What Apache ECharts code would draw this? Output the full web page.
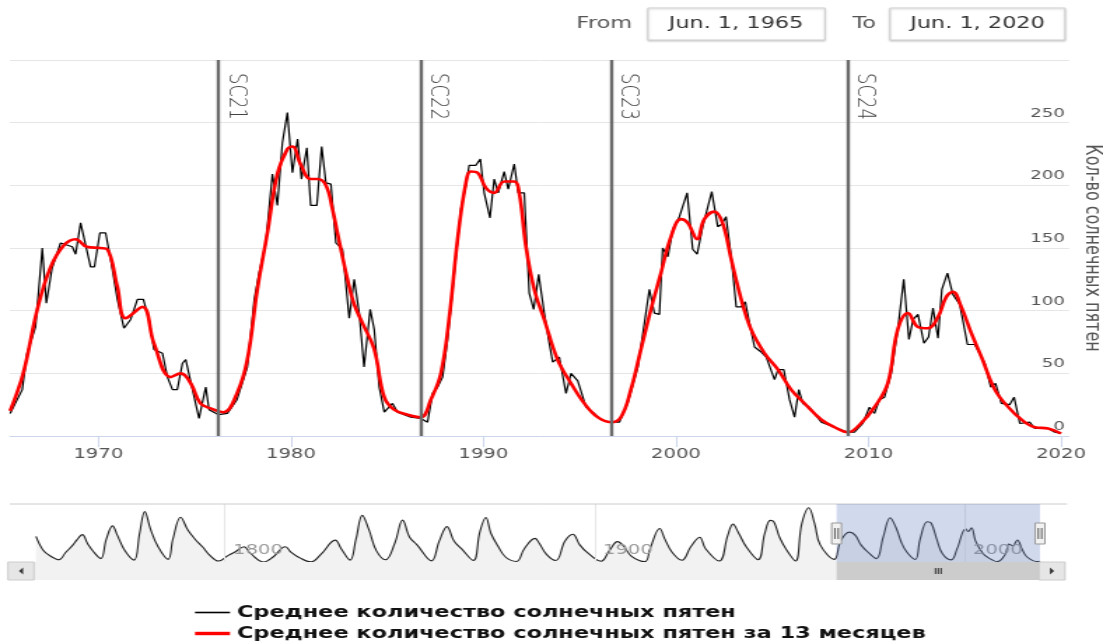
<!DOCTYPE html>
<html><head><meta charset="utf-8">
<script src="https://cdn.jsdelivr.net/npm/echarts@6/dist/echarts.min.js"></script>
<style>
html,body{margin:0;padding:0;background:#fff;overflow:hidden}
#wrap{width:1103px;height:641px;overflow:hidden;position:relative}
#main{width:788px;height:641px;transform:scaleX(1.39975);transform-origin:0 0}
</style></head>
<body><div id="wrap"><div id="main"></div></div>
<script>
// ---- data ----
const seriesNames = ['Среднее количество солнечных пятен', 'Среднее количество солнечных пятен за 13 месяцев'];
const axisName = 'Кол-во солнечных пятен';
const rangeFrom = 1965.414, rangeTo = 2020.414;
const rangeLabels = ['Jun. 1, 1965', 'Jun. 1, 2020'];
const xTickYears = [1970, 1980, 1990, 2000, 2010, 2020];
const navTickYears = [1800, 1900, 2000];
const cycleNames = ['SC21', 'SC22', 'SC23', 'SC24'];
const cycleStarts = [1976.25, 1986.75, 1996.67, 2008.96];

const rawYears = [1965.42,1966.05,1966.3,1966.74,1967.09,1967.3,1967.6,1968.04,1968.65,1968.82,1969.08,1969.6,1969.8,1970.08,1970.38,1970.64,1970.99,1971.33,1971.68,1972.03,1972.34,1972.63,1972.89,1973.33,1973.59,1973.85,1974.1,1974.37,1974.54,1974.89,1975.23,1975.58,1975.75,1976.25,1976.7,1977.2,1977.74,1978.1,1978.35,1978.7,1979.04,1979.3,1979.56,1979.82,1980.08,1980.35,1980.55,1980.83,1981.03,1981.35,1981.6,1981.82,1982.08,1982.34,1982.68,1983.03,1983.29,1983.55,1983.8,1984.12,1984.33,1984.59,1984.85,1985.28,1985.54,1986.23,1986.75,1987.1,1987.36,1987.62,1987.88,1988.14,1988.49,1988.83,1989.09,1989.26,1989.61,1989.84,1990.04,1990.34,1990.56,1990.77,1991.08,1991.29,1991.6,1991.81,1992.12,1992.38,1992.61,1992.87,1993.16,1993.42,1993.6,1993.94,1994.29,1994.55,1994.9,1995.33,1995.68,1996.11,1996.54,1997.06,1997.49,1998.02,1998.36,1998.62,1998.88,1999.14,1999.31,1999.58,1999.84,2000.18,2000.58,2000.87,2001.1,2001.39,2001.86,2002.17,2002.38,2002.6,2002.87,2003.13,2003.39,2003.6,2003.82,2004.08,2004.43,2004.69,2005.12,2005.3,2005.6,2005.9,2006.16,2006.38,2006.59,2006.93,2007.55,2008.24,2008.93,2009.27,2009.7,2010.05,2010.31,2010.57,2010.83,2011.18,2011.52,2011.83,2012.1,2012.32,2012.57,2012.88,2013.12,2013.35,2013.61,2013.81,2014.1,2014.38,2014.74,2015.14,2015.52,2016.04,2016.35,2016.6,2016.9,2017.33,2017.56,2017.86,2018.38,2018.64,2019.33,2019.68,2020.0];
const rawValues = [18,37,66,87,150,106,134,154,151,145,170,135,135,162,162,141,109,86,93,109,109,93,69,66,47,37,37,58,61,37,14,39,21,17,18,29,55,109,130,154,209,184,234,258,210,237,205,230,184,184,231,202,201,154,149,94,125,98,55,101,85,39,19,26,19,15,14,11,34,39,47,77,130,181,200,216,216,221,194,174,205,194,211,197,217,194,194,114,101,129,98,74,59,63,34,50,44,23,19,13,11,11,26,55,90,117,98,97,150,143,165,175,194,149,145,167,195,167,169,175,143,103,103,107,90,71,67,63,45,53,53,29,15,37,26,23,11,7,3,3,10,23,18,29,31,50,85,125,77,93,97,74,79,102,78,117,130,113,105,73,73,58,39,42,26,25,31,10,11,6,6,3,2];

const smoothYears = [1965.42,1966.1,1966.83,1967.5,1968.2,1968.82,1969.4,1970.1,1970.47,1970.99,1971.42,1972.29,1972.89,1973.76,1974.28,1974.8,1975.3,1975.84,1976.5,1977.2,1977.74,1978.26,1978.78,1979.3,1979.82,1980.08,1980.5,1981.03,1981.38,1981.82,1982.16,1982.42,1982.94,1983.29,1983.72,1984.33,1984.85,1985.36,1986.06,1986.75,1987.27,1987.79,1988.23,1988.66,1989.09,1989.35,1989.7,1990.13,1990.56,1991.08,1991.6,1991.86,1992.21,1992.64,1993.16,1993.85,1994.55,1995.24,1995.93,1996.62,1997.14,1997.66,1998.18,1998.7,1999.22,1999.74,2000.26,2000.61,2001.1,2001.47,2001.99,2002.42,2002.87,2003.39,2003.9,2004.6,2005.3,2005.98,2006.68,2007.55,2008.24,2008.93,2009.6,2010.31,2011.0,2011.52,2012.05,2012.57,2013.09,2013.61,2014.04,2014.38,2014.82,2015.34,2015.87,2016.56,2017.26,2017.95,2018.64,2019.33,2020.0];
const smoothValues = [20,50,101,134,152,157,151,150,149,119,94,103,74,47,50,42,26,22,19,34,61,117,162,209,229,231,217,205,205,200,181,162,125,105,90,69,31,21,17,15,29,50,95,157,202,211,210,198,194,203,203,194,151,117,93,61,42,26,15,11,15,37,69,101,130,159,173,170,157,173,179,170,141,109,85,66,53,37,26,13,7,3,10,23,42,85,98,87,86,95,111,115,103,82,63,37,23,13,7,6,2];

const navYears = [1749,1751,1753,1755.2,1757,1759,1760,1761.5,1763,1764.5,1766.5,1768,1769.7,1771,1773,1775.5,1777,1778.4,1780,1782,1784.7,1786,1788.1,1790,1792,1794,1796,1798.3,1801,1803,1805.2,1807,1810.6,1813,1816.4,1818,1820,1823.3,1826,1829.9,1831.5,1833.9,1835.5,1837.2,1839,1841,1843.5,1846,1848.1,1850,1852,1855.9,1858,1860.1,1862,1864,1867.2,1869,1870.6,1872,1874,1876,1878.9,1881,1883.9,1885,1887,1889.5,1892,1894.1,1896,1898,1901.7,1904,1906.2,1908,1910,1913.6,1915,1917.6,1919,1921,1923.6,1926,1928.4,1930,1933.7,1936,1937.4,1939,1941,1944.2,1946,1947.5,1948.5,1950,1952,1954.3,1956,1957.9,1959.5,1961,1964.8,1966.5,1968.9,1970.5,1972,1974,1976.2,1978,1979.9,1981.5,1983,1984.5,1986.7,1988,1989.9,1991,1992.5,1994,1996.4,1998,2000.3,2001,2001.9,2003,2005,2006.5,2008.9,2011,2012,2013,2014.3,2015.5,2017,2019.9,2020.4];
const navValues = [135,60,30,12,50,90,115,144,95,55,18,120,190,140,60,10,150,265,170,80,14,120,235,170,120,80,35,5,35,55,80,45,0,25,80,50,25,1,40,115,70,10,120,245,170,60,12,100,220,130,90,6,110,186,110,70,8,160,234,150,80,25,3,70,124,100,40,8,110,146,90,50,4,60,107,80,30,2,70,176,120,50,9,80,130,70,5,140,199,150,80,12,150,219,210,130,60,5,200,285,200,90,14,110,157,140,90,50,18,130,233,180,100,50,13,120,212,205,120,45,11,70,175,160,180,110,45,22,2,40,95,85,116,70,25,2,4];

// ---- chart ----
const K = 1103 / 788;           // horizontal stretch of the whole page
const FONT = 'DejaVu Sans';
const chart = echarts.init(document.getElementById('main'), null, {renderer: 'canvas', width: 788, height: 641});
const pair = (xs, ys) => xs.map((x, i) => [x, ys[i]]);

const option = {
  animation: false,
  backgroundColor: '#ffffff',
  grid: [
    {left: 10 / K, top: 60, width: 1059 / K, height: 376, outerBoundsMode: 'none', containLabel: false},
    {left: 36 / K, top: 504, width: 1004 / K, height: 58, outerBoundsMode: 'none', containLabel: false}
  ],
  xAxis: [
    {type: 'value', gridIndex: 0, min: rangeFrom, max: rangeTo,
     axisLine: {show: true, lineStyle: {color: '#ccd6eb', width: 1}},
     axisTick: {show: true, customValues: xTickYears, length: 11, lineStyle: {color: '#ccd6eb'}},
     axisLabel: {customValues: xTickYears, formatter: v => String(v), color: '#555', fontFamily: FONT, fontSize: 14, margin: 11},
     splitLine: {show: false}},
    {type: 'value', gridIndex: 1, min: 1749, max: rangeTo, z: 4,
     axisLine: {show: false},
     axisTick: {show: false, customValues: navTickYears},
     axisLabel: {customValues: navTickYears, formatter: v => String(v), inside: true, align: 'left', verticalAlign: 'middle',
                 margin: 12, padding: [0, 0, 0, 6], color: '#9a9a9a', fontSize: 14, fontFamily: FONT},
     splitLine: {show: true, lineStyle: {color: '#e6e6e6', width: 1}}}
  ],
  yAxis: [
    {type: 'value', gridIndex: 0, position: 'right', min: 0, max: 300, interval: 50,
     axisLine: {show: false}, axisTick: {show: false},
     splitLine: {show: true, lineStyle: {color: '#e6e6e6', width: 1}},
     axisLabel: {inside: true, margin: 3, verticalAlign: 'bottom', padding: [0, 0, 3, 0], color: '#555', fontFamily: FONT, fontSize: 13,
                 formatter: v => (v === 300 ? '' : String(v))},
     name: axisName, nameLocation: 'middle', nameRotate: -90, nameGap: 8,
     nameTextStyle: {color: '#555', fontSize: 16, fontFamily: FONT}},
    {type: 'value', gridIndex: 1, min: 0, max: 305, show: false}
  ],
  legend: {
    orient: 'vertical', left: 195 / K, top: 603, height: 60, padding: 0, itemWidth: 25, itemHeight: 14, itemGap: 2,
    selectedMode: false,
    textStyle: {fontFamily: FONT, fontSize: 16, lineHeight: 19, fontWeight: 'bold', color: '#111'},
    data: [
      {name: seriesNames[0], icon: 'path://M0,0M25,14M0,6.2H25V7.8H0Z'},
      {name: seriesNames[1], icon: 'path://M0,0M25,14M0,5.3H25V8.7H0Z'}
    ]
  },
  series: [
    {name: seriesNames[0], type: 'line', xAxisIndex: 0, yAxisIndex: 0, data: pair(rawYears, rawValues),
     symbol: 'none', lineStyle: {color: '#000', width: 1.2}, itemStyle: {color: '#000'}, z: 2,
     markLine: {silent: true, symbol: ['none', 'none'], animation: false,
       lineStyle: {color: '#6a6a6a', width: 2.4, type: 'solid'},
       label: {show: true, position: 'insideStartTop', formatter: '{b}', distance: [13, 3],
               color: '#444', fontFamily: FONT, fontSize: 18, fontWeight: 200},
       data: cycleStarts.map((x, i) => [{coord: [x, 300], name: cycleNames[i]}, {coord: [x, 0]}])}},
    {name: seriesNames[1], type: 'line', xAxisIndex: 0, yAxisIndex: 0, data: pair(smoothYears, smoothValues),
     symbol: 'none', smooth: 0.4, lineStyle: {color: '#ff0000', width: 2.6}, itemStyle: {color: '#ff0000'}, z: 3},
    {name: 'navigator', type: 'line', xAxisIndex: 1, yAxisIndex: 1, data: pair(navYears, navValues),
     symbol: 'none', smooth: 0.4, silent: true,
     lineStyle: {color: '#222', width: 1.1}, areaStyle: {color: '#f2f2f2', opacity: 1}, z: 1}
  ]
};
chart.setOption(option);

// ---- navigator decorations (mask, handles, scrollbar) and range inputs ----
const xa = chart.convertToPixel({xAxisIndex: 1}, rangeFrom);
const xb = chart.convertToPixel({xAxisIndex: 1}, rangeTo);
const navTop = 504, navBot = 562, sbTop = 562, sbBot = 580;
const sbLeft = 8 / K, sbRight = 1065 / K, btnW = 26 / K;
function handle(x) {
  return [
    {type: 'rect', shape: {x: x - 3.5, y: 523, width: 7, height: 21}, style: {fill: '#f2f2f2', stroke: '#999', lineWidth: 1}, z: 20},
    {type: 'line', shape: {x1: x - 1.2, y1: 528, x2: x - 1.2, y2: 539}, style: {stroke: '#333', lineWidth: 0.8}, z: 21},
    {type: 'line', shape: {x1: x + 1.2, y1: 528, x2: x + 1.2, y2: 539}, style: {stroke: '#333', lineWidth: 0.8}, z: 21}
  ];
}
const midThumb = (xa + xb) / 2;
const graphics = [
  {type: 'line', shape: {x1: 10 / K, y1: navTop, x2: 1067 / K, y2: navTop}, style: {stroke: '#cccccc', lineWidth: 1}, z: 5},
  {type: 'rect', shape: {x: xa, y: navTop, width: xb - xa, height: navBot - navTop}, style: {fill: 'rgba(102,133,194,0.3)'}, z: 10},
  // scrollbar
  {type: 'rect', shape: {x: sbLeft, y: sbTop, width: sbRight - sbLeft, height: sbBot - sbTop}, style: {fill: '#f2f2f2'}, z: 10},
  {type: 'rect', shape: {x: xa, y: sbTop, width: xb - xa, height: sbBot - sbTop}, style: {fill: '#cccccc'}, z: 11},
  {type: 'line', shape: {x1: midThumb - 2, y1: sbTop + 6, x2: midThumb - 2, y2: sbBot - 6}, style: {stroke: '#333', lineWidth: 1}, z: 12},
  {type: 'line', shape: {x1: midThumb, y1: sbTop + 6, x2: midThumb, y2: sbBot - 6}, style: {stroke: '#333', lineWidth: 1}, z: 12},
  {type: 'line', shape: {x1: midThumb + 2, y1: sbTop + 6, x2: midThumb + 2, y2: sbBot - 6}, style: {stroke: '#333', lineWidth: 1}, z: 12},
  {type: 'rect', shape: {x: sbLeft, y: sbTop, width: btnW, height: sbBot - sbTop}, style: {fill: '#e6e6e6', stroke: '#cccccc', lineWidth: 1}, z: 12},
  {type: 'rect', shape: {x: sbRight - btnW, y: sbTop, width: btnW, height: sbBot - sbTop}, style: {fill: '#e6e6e6', stroke: '#cccccc', lineWidth: 1}, z: 12},
  {type: 'polygon', shape: {points: [[sbLeft + btnW / 2 + 1.5, sbTop + 5.5], [sbLeft + btnW / 2 + 1.5, sbBot - 5.5], [sbLeft + btnW / 2 - 1.5, (sbTop + sbBot) / 2]]}, style: {fill: '#333'}, z: 13},
  {type: 'polygon', shape: {points: [[sbRight - btnW / 2 - 1.5, sbTop + 5.5], [sbRight - btnW / 2 - 1.5, sbBot - 5.5], [sbRight - btnW / 2 + 1.5, (sbTop + sbBot) / 2]]}, style: {fill: '#333'}, z: 13},
  ...handle(xa), ...handle(xb),
  // range selector inputs
  {type: 'text', x: 632 / K, y: 24, style: {text: 'From', align: 'right', verticalAlign: 'middle', fontFamily: FONT, fontSize: 16, fill: '#555'}, z: 30},
  {type: 'rect', shape: {x: 648 / K, y: 8, width: 177 / K, height: 32}, style: {fill: '#fff', stroke: '#d0d0d0', lineWidth: 1, shadowBlur: 2, shadowOffsetY: 1, shadowColor: 'rgba(0,0,0,0.18)'}, z: 30},
  {type: 'text', x: 736 / K, y: 24, style: {text: rangeLabels[0], align: 'center', verticalAlign: 'middle', fontFamily: FONT, fontSize: 16, fill: '#333'}, z: 31},
  {type: 'text', x: 876 / K, y: 24, style: {text: 'To', align: 'right', verticalAlign: 'middle', fontFamily: FONT, fontSize: 16, fill: '#555'}, z: 30},
  {type: 'rect', shape: {x: 890 / K, y: 8, width: 175 / K, height: 32}, style: {fill: '#fff', stroke: '#d0d0d0', lineWidth: 1, shadowBlur: 2, shadowOffsetY: 1, shadowColor: 'rgba(0,0,0,0.18)'}, z: 30},
  {type: 'text', x: 977.5 / K, y: 24, style: {text: rangeLabels[1], align: 'center', verticalAlign: 'middle', fontFamily: FONT, fontSize: 16, fill: '#333'}, z: 31}
];
chart.setOption({graphic: graphics});
</script>
</body></html>
